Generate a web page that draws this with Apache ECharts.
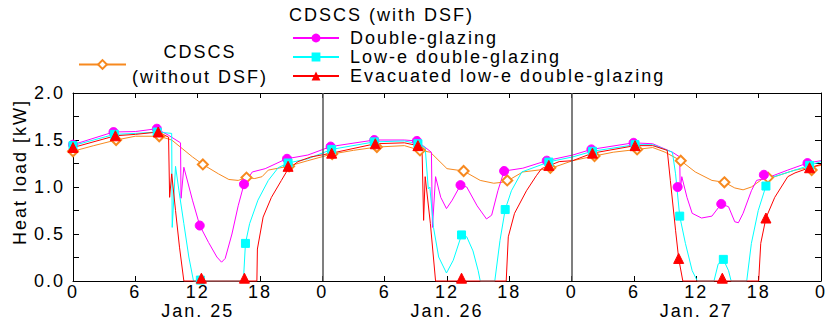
<!DOCTYPE html>
<html>
<head>
<meta charset="utf-8">
<script src="https://cdn.jsdelivr.net/npm/echarts@6/dist/echarts.min.js"></script>
<style>
  body { margin: 0; background: #fff; }
  #main { width: 829px; height: 324px; }
  /* the original lettering is widely spaced */
  #main text { letter-spacing: 2px; }
</style>
</head>
<body>
<div id="main"></div>
<script>
// hours since 0:00 Jan. 25, heat load in kW
const days = ['Jan. 25', 'Jan. 26', 'Jan. 27'];
const dayBreaks = [24, 48];

const withoutDsf = [[0,1.38],[2,1.44],[4.15,1.50],[6,1.54],[8.3,1.54],[9.5,1.50],[10.5,1.41],[11.5,1.32],[12.5,1.24],[14,1.14],[15,1.08],[15.9,1.07],[16.7,1.10],[17.5,1.09],[18.2,1.11],[18.8,1.18],[20.7,1.22],[22.6,1.28],[24.9,1.35],[27,1.39],[29.25,1.425],[31.9,1.44],[33.4,1.39],[34.4,1.37],[36.0,1.195],[37.6,1.17],[39.2,1.07],[40.5,1.04],[41.3,1.05],[41.9,1.07],[43.3,1.16],[45.9,1.195],[48.1,1.28],[50.2,1.33],[52,1.37],[54.3,1.40],[55.8,1.42],[57.0,1.37],[58.5,1.28],[59.9,1.16],[61.5,1.07],[62.7,1.05],[63.7,0.99],[64.5,0.97],[65.3,1.00],[66.3,1.08],[67.55,1.11],[69.5,1.18],[72,1.23]];
const doubleGlazing = [[0,1.45],[3.9,1.585],[6,1.59],[8.07,1.62],[9.2,1.55],[10.35,1.47],[10.4,0.88],[10.67,1.21],[11.5,0.86],[12.2,0.59],[13.05,0.41],[13.85,0.255],[14.3,0.20],[14.65,0.24],[15.3,0.50],[15.9,0.80],[16.46,1.03],[17.26,1.16],[18.5,1.195],[20.54,1.30],[22.6,1.34],[24.8,1.43],[29.0,1.50],[31.9,1.50],[33.1,1.49],[34.5,1.37],[34.6,0.57],[34.9,1.11],[35.4,0.89],[35.95,0.77],[36.5,0.86],[37.3,1.02],[37.9,1.0],[38.9,0.80],[39.8,0.66],[40.3,0.70],[40.9,0.96],[41.5,1.17],[43.3,1.20],[45.6,1.28],[48.1,1.34],[49.9,1.40],[53.96,1.47],[55.8,1.46],[57.7,1.37],[58.4,1.32],[58.45,0.96],[58.6,1.11],[59.1,0.89],[59.6,0.72],[60.5,0.67],[61.5,0.69],[62.4,0.82],[63.1,0.79],[63.7,0.63],[64.05,0.62],[64.5,0.72],[65.3,0.96],[65.8,1.07],[66.9,1.10],[68.8,1.18],[70.7,1.255],[72,1.28]];
const lowE = [[0,1.44],[3.98,1.56],[6,1.57],[8.1,1.585],[9.5,1.57],[9.55,0.57],[9.87,1.22],[10.2,0.96],[10.67,0.61],[11.15,0.255],[11.6,0],[16.4,0],[16.6,0.40],[17.0,0.61],[17.8,0.86],[18.8,1.07],[19.75,1.205],[20.7,1.255],[22.6,1.30],[24.9,1.40],[29.0,1.48],[31.9,1.49],[33.2,1.46],[33.9,1.42],[34.2,0.98],[34.35,1.0],[34.7,0.57],[35.2,0.255],[35.95,0.085],[36.6,0.22],[37.4,0.49],[37.9,0.47],[38.5,0.32],[39.0,0.11],[39.2,0],[40.6,0],[41.1,0.43],[41.6,0.76],[42.2,0.96],[43.2,1.16],[45.9,1.27],[48.1,1.32],[50.0,1.38],[54.1,1.45],[55.8,1.45],[57.7,1.37],[58.0,1.14],[58.4,0.69],[58.95,0.40],[59.6,0.11],[60.1,0],[61.7,0],[62.1,0.18],[62.6,0.23],[63.1,0.11],[63.35,0],[64.85,0],[65.3,0.40],[65.96,0.75],[66.7,1.01],[67.2,1.10],[69.5,1.18],[72,1.27]];
const evacuated = [[0,1.42],[4.08,1.545],[6,1.56],[8.2,1.585],[9.2,1.53],[9.3,0.89],[9.5,1.14],[9.87,0.75],[10.25,0.36],[10.67,0],[17.7,0],[17.75,0.34],[18.3,0.68],[19.1,0.89],[20.06,1.07],[20.7,1.19],[21.66,1.27],[22.9,1.32],[24.9,1.36],[29.1,1.46],[31.9,1.47],[33.2,1.44],[33.6,1.39],[33.75,0.645],[33.9,1.11],[34.4,0.61],[34.9,0],[41.7,0],[41.9,0.47],[42.5,0.72],[43.65,0.96],[44.6,1.12],[45.1,1.195],[46.8,1.27],[48.1,1.28],[50.0,1.36],[54.1,1.44],[55.8,1.44],[57.2,1.39],[57.5,1.07],[58.0,0.54],[58.3,0.24],[58.7,0],[66.0,0],[66.2,0.40],[66.7,0.67],[67.55,0.89],[68.8,1.11],[69.5,1.15],[70.9,1.205],[72,1.24]];

// plotted symbols
const withoutDsfMarks = [[0,1.38],[4.15,1.50],[8.3,1.54],[12.5,1.24],[16.7,1.10],[20.8,1.22],[24.95,1.35],[29.25,1.425],[33.4,1.39],[37.6,1.17],[41.8,1.07],[45.95,1.205],[50.2,1.33],[54.3,1.40],[58.5,1.28],[62.7,1.05],[66.9,1.10],[71.1,1.18]];
const doubleGlazingMarks = [[0,1.45],[3.9,1.585],[8.07,1.62],[12.2,0.59],[16.46,1.03],[20.6,1.30],[24.8,1.43],[29.0,1.50],[33.1,1.49],[37.3,1.02],[41.5,1.17],[45.6,1.28],[49.9,1.40],[53.96,1.47],[58.2,1.00],[62.4,0.82],[66.5,1.13],[70.7,1.255]];
const lowEMarks = [[0,1.44],[3.98,1.56],[8.1,1.585],[12.26,0.01],[16.6,0.40],[20.7,1.255],[24.9,1.40],[29.0,1.48],[33.2,1.46],[37.4,0.49],[41.6,0.76],[45.8,1.265],[50.0,1.38],[54.1,1.45],[58.4,0.69],[62.6,0.23],[66.7,1.01],[70.9,1.23]];
const evacuatedMarks = [[0,1.42],[4.08,1.545],[8.2,1.585],[12.36,0.03],[16.5,0.03],[20.7,1.22],[24.9,1.36],[29.1,1.46],[33.2,1.44],[37.4,0.03],[45.8,1.23],[50.0,1.36],[54.1,1.44],[58.3,0.24],[62.5,0.03],[66.7,0.67],[70.9,1.205]];

const font = 'Liberation Sans';
const chart = echarts.init(document.getElementById('main'), null, { renderer: 'svg' });

const lineSeries = (name, data, color, symbol) => ({
  name: name,
  type: 'line',
  data: data,
  showSymbol: false,
  symbol: symbol,
  clip: false,
  silent: true,
  lineStyle: { color: color, width: 1 },
  itemStyle: { color: color },
  z: 2
});
const markSeries = (data, color, symbol, size) => ({
  type: 'scatter',
  data: data,
  symbol: symbol,
  symbolSize: size,
  clip: false,
  silent: true,
  itemStyle: { color: color, borderColor: color, borderWidth: 1, opacity: 1 },
  z: 3
});

const black = { color: '#000', width: 1 };
const option = {
  animation: false,
  textStyle: { fontFamily: font },
  title: {
    text: 'CDSCS (with DSF)',
    left: 284, top: 1,
    textStyle: { fontSize: 18, fontWeight: 'normal', color: '#000', fontFamily: font }
  },
  legend: [
    {
      data: ['Double-glazing', 'Low-e double-glazing', 'Evacuated low-e double-glazing'],
      orient: 'vertical', left: 287, top: 24,
      itemWidth: 46, itemHeight: 11, itemGap: 1,
      selectedMode: false,
      textStyle: { fontSize: 18, color: '#000', fontFamily: font, lineHeight: 14, padding: [0, 0, 0, 6] }
    },
    {
      data: ['CDSCS (without DSF)'],
      orient: 'vertical', left: 73, top: 38,
      itemWidth: 47, itemHeight: 11,
      selectedMode: false,
      formatter: () => '{a|CDSCS}\n{a|(without DSF)}',
      textStyle: { rich: { a: { fontSize: 18, width: 138, align: 'center', lineHeight: 25, color: '#000', fontFamily: font } } }
    }
  ],
  grid: { left: 73, right: 3, top: 93, bottom: 43 },
  xAxis: [
    {
      type: 'value', min: 0, max: 72, interval: 6, position: 'bottom',
      axisLine: { onZero: false, lineStyle: black },
      axisTick: { inside: true, length: 5, lineStyle: black },
      axisLabel: { formatter: v => String(v % 24), fontSize: 18, lineHeight: 14, color: '#000', margin: 4, fontFamily: font, showMinLabel: true, showMaxLabel: true },
      splitLine: { show: false }
    },
    {
      type: 'value', min: 0, max: 72, interval: 6, position: 'top',
      axisLine: { onZero: false, lineStyle: black },
      axisTick: { inside: true, length: 5, lineStyle: black },
      axisLabel: { show: false },
      splitLine: { show: false }
    },
    {
      type: 'category', data: days, position: 'bottom', offset: 21,
      axisLine: { show: false }, axisTick: { show: false },
      axisLabel: { fontSize: 18, lineHeight: 14, color: '#000', margin: 2, fontFamily: font },
      splitLine: { show: false }
    }
  ],
  yAxis: [
    {
      type: 'value', min: 0, max: 2, interval: 0.5, position: 'left',
      axisLine: { show: true, onZero: false, lineStyle: black },
      axisTick: { inside: true, length: 6, lineStyle: black },
      minorTick: { show: true, splitNumber: 2, length: 6, lineStyle: black },
      axisLabel: { formatter: v => v.toFixed(1), fontSize: 18, color: '#000', margin: 8, fontFamily: font },
      splitLine: { show: false }
    },
    {
      type: 'value', min: 0, max: 2, interval: 0.5, position: 'right',
      axisLine: { show: true, onZero: false, lineStyle: black },
      axisTick: { inside: true, length: 6, lineStyle: black },
      minorTick: { show: true, splitNumber: 2, length: 6, lineStyle: black },
      axisLabel: { show: false },
      splitLine: { show: false }
    }
  ],
  graphic: [
    {
      type: 'text', x: 20, y: 172, rotation: Math.PI / 2,
      style: { text: 'Heat load [kW]', fontSize: 18, fontFamily: font, fill: '#000', align: 'center', verticalAlign: 'middle' }
    }
  ],
  series: [
    Object.assign(lineSeries('CDSCS (without DSF)', withoutDsf, '#f7891f', 'emptyDiamond'), {
      markLine: {
        silent: true, symbol: 'none', label: { show: false },
        lineStyle: { color: '#555', width: 1.5, type: 'solid' },
        data: dayBreaks.map(h => ({ xAxis: h }))
      }
    }),
    lineSeries('Double-glazing', doubleGlazing, '#ff00ff', 'circle'),
    lineSeries('Low-e double-glazing', lowE, '#00ffff', 'rect'),
    lineSeries('Evacuated low-e double-glazing', evacuated, '#ff0000', 'triangle'),
    markSeries(withoutDsfMarks, '#f7891f', 'emptyDiamond', 10),
    markSeries(doubleGlazingMarks, '#ff00ff', 'circle', 9),
    markSeries(lowEMarks, '#00ffff', 'rect', 8),
    markSeries(evacuatedMarks, '#ff0000', 'triangle', 10)
  ]
};

chart.setOption(option);
</script>
</body>
</html>
